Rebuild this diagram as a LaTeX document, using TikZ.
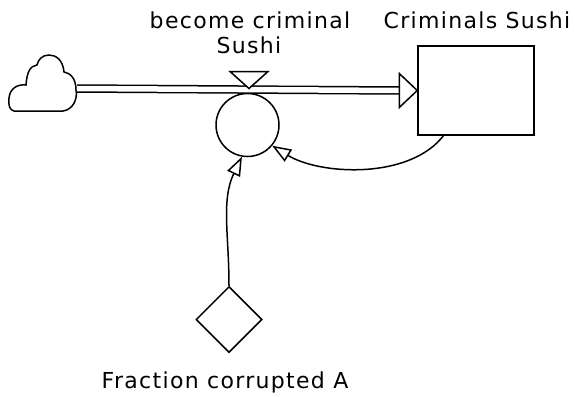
\documentclass[tikz,border=0pt]{standalone}
\usepackage{fontspec}
\setmainfont{DejaVu Sans}[LetterSpace=6]
\usetikzlibrary{arrows.meta,shapes.geometric,calc}
\begin{document}
\begin{tikzpicture}[x=1pt,y=-1pt,
  line width=1.5pt,
  lbl/.style={font=\fontsize{22}{24}\selectfont, inner sep=0pt, anchor=base},
  stockbox/.style={draw, rectangle, minimum width=116pt, minimum height=89pt, inner sep=0pt},
  valvecirc/.style={draw, circle, minimum size=63pt, inner sep=0pt},
  auxdiamond/.style={draw, diamond, aspect=1, minimum width=66pt, minimum height=66pt, inner sep=0pt},
  link/.style={-{Triangle[open,length=19pt,width=14pt]}},
  pipe/.style={double, double distance=5.5pt}]
\useasboundingbox (0,0) rectangle (575,396);

% source cloud
\draw (14,111) -- (63,111)
  .. controls (72,110) and (78,100) .. (76,90)
  .. controls (76,78) and (70,73) .. (64,72)
  .. controls (63,60) and (56,55) .. (49,55)
  .. controls (42,55) and (38,60) .. (37,65)
  .. controls (30,66) and (27,72) .. (26,85)
  .. controls (18,84) and (10,88) .. (9,98)
  .. controls (8,106) and (10,110) .. (14,111) -- cycle;
\coordinate (src) at (77,88.5);

% stock, flow valve and auxiliary
\node[stockbox] (stock) at (476,90.5) {};
\node[valvecirc] (rate) at (247.5,125) {};
\node[auxdiamond] (frac) at (229,319.5) {};
\coordinate (valvetip) at (249,88.5);

% flow pipe with its head
\coordinate (pipeend) at ($(stock.west)+(-18,0)$);
\draw[pipe] (src) -- (pipeend);
\draw[fill=white] (stock.west) -- ++(-18,-17) -- ++(0,34) -- cycle;

% valve marker
\draw[fill=white] (valvetip) -- ++(-19,-17) -- ++(38,0) -- cycle;

% information links
\draw[link] (444,135) .. controls (410,180) and (320,175) .. (rate.-40);
\draw[link] (frac.north) .. controls (229,235) and (221,200) .. (rate.-100);

% labels
\node[lbl] (rl1) at (250,29) {become criminal};
\node[lbl] (rl2) at (249,53) {Sushi};
\node[lbl] (sl) at (477,29) {Criminals Sushi};
\node[lbl] (fl) at (225,388) {Fraction corrupted A};
\end{tikzpicture}
\end{document}
